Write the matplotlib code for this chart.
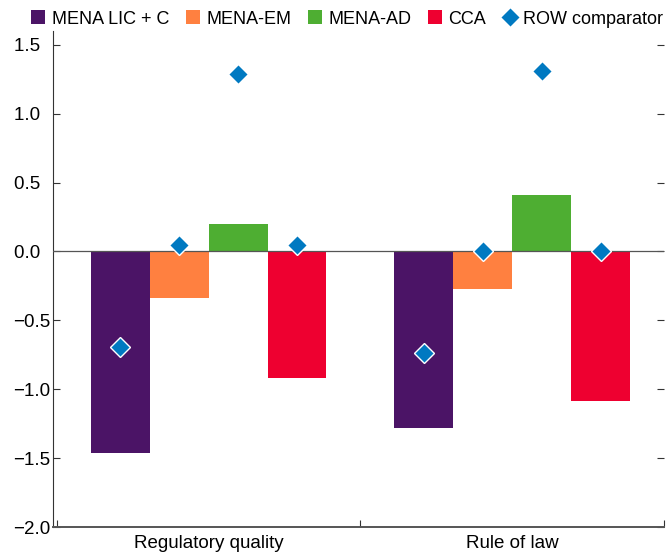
import matplotlib
matplotlib.use("Agg")
import matplotlib.pyplot as plt
from matplotlib.lines import Line2D
import numpy as np

categories = ["Regulatory quality", "Rule of law"]
series = ["MENA LIC + C", "MENA-EM", "MENA-AD", "CCA"]
bar_values = {
    "MENA LIC + C": [-1.46, -1.28],
    "MENA-EM": [-0.34, -0.27],
    "MENA-AD": [0.20, 0.41],
    "CCA": [-0.915, -1.085],
}
row_values = {
    "MENA LIC + C": [-0.69, -0.74],
    "MENA-EM": [0.05, 0.00],
    "MENA-AD": [1.285, 1.31],
    "CCA": [0.05, 0.00],
}
colors = ["#4B1466", "#FF8040", "#4EAE32", "#EE0030"]
row_color = "#0079C1"
yticks = [-2.0, -1.5, -1.0, -0.5, 0.0, 0.5, 1.0, 1.5]

plt.rcParams['font.family'] = ['Liberation Sans', 'DejaVu Sans']

fig = plt.figure(figsize=(6.66, 5.59), dpi=100)
ax = fig.add_axes([0.0796, 0.0572, 0.9174, 0.8873])

x = np.arange(len(categories))
w = 0.194
offsets = (np.arange(len(series)) - 1.5) * w
for i, s in enumerate(series):
    ax.bar(x + offsets[i], bar_values[s], width=w, color=colors[i], linewidth=0, zorder=2)
for i, s in enumerate(series):
    ax.plot(x + offsets[i], row_values[s], linestyle='none', marker='D', markersize=10,
            markerfacecolor=row_color, markeredgecolor='white', markeredgewidth=1, zorder=4)

ax.axhline(0, color='#555555', linewidth=0.9, zorder=3)

ax.set_xlim(-0.513, 1.5)
ax.set_ylim(-2.0, 1.6)
ax.set_yticks(yticks)
ax.set_yticklabels([(f"{v:.1f}".replace("-", "\u2212") if v < 0 else f"{v:.1f}\u2007")
                    for v in yticks])
ax.set_xticks([-0.5, 0.5, 1.5])
ax.set_xticklabels([])
ax.set_xticks(x, minor=True)
ax.set_xticklabels(categories, minor=True)

for sp in ['top', 'right']:
    ax.spines[sp].set_visible(False)
ax.spines['left'].set_color('#333333')
ax.spines['bottom'].set_color('#555555')
ax.spines['bottom'].set_linewidth(1.4)

ax.tick_params(axis='y', which='major', direction='in', length=5, color='#333333',
               labelsize=13.5, right=True, pad=2)
ax.tick_params(axis='x', which='major', direction='in', length=5, color='#333333')
ax.tick_params(axis='x', which='minor', length=0, labelsize=13.5, pad=6)

handles = [Line2D([], [], linestyle='none', marker='s', markersize=9.5, markerfacecolor=c,
                  markeredgewidth=0) for c in colors]
handles.append(Line2D([], [], linestyle='none', marker='D', markersize=10,
                      markerfacecolor=row_color, markeredgecolor='white', markeredgewidth=1))
labels = series + ["ROW comparator"]
fig.legend(handles, labels, loc='center left', bbox_to_anchor=(0.044, 0.966), ncol=5,
           frameon=False, fontsize=13, handlelength=1.0, handletextpad=0.25,
           columnspacing=0.8, borderaxespad=0, borderpad=0)

fig.savefig("out.png", dpi=100)
